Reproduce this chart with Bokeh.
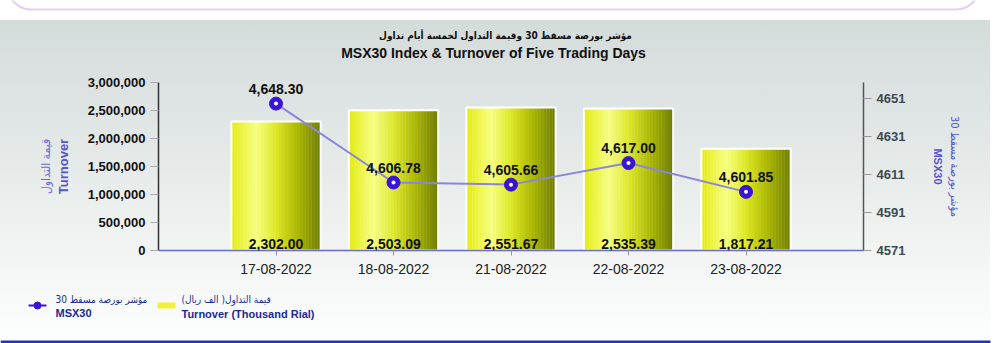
from bokeh.plotting import figure
from bokeh.layouts import column
from bokeh.models import (ColumnDataSource, FactorRange, Range1d, LinearAxis, FixedTicker,
                          NumeralTickFormatter, LabelSet, Label, BoxAnnotation)
from bokeh.transform import dodge
from bokeh.core.properties import value
from bokeh.embed import file_html
from bokeh.resources import INLINE

# ---------------- data ----------------
dates = ["17-08-2022", "18-08-2022", "21-08-2022", "22-08-2022", "23-08-2022"]
turnover_thousand = [2302.00, 2503.09, 2551.67, 2535.39, 1817.21]
msx30 = [4648.30, 4606.78, 4605.66, 4617.00, 4601.85]
left_ticks = [0, 500000, 1000000, 1500000, 2000000, 2500000, 3000000]
right_ticks = [4571, 4591, 4611, 4631, 4651]

title_ar = "مؤشر بورصة مسقط 30 وقيمة التداول لخمسة أيام تداول"
title_en = "MSX30 Index & Turnover of Five Trading Days"
left_label_ar = "قيمة التداول"
left_label_en = "Turnover"
right_label_ar = "مؤشر بورصة مسقط 30"
right_label_en = "MSX30"
legend_line_ar = "مؤشر بورصة مسقط 30"
legend_line_en = "MSX30"
legend_bar_ar = "قيمة التداول( الف ريال)"
legend_bar_en = "Turnover (Thousand Rial)"

FONT = "Liberation Sans"
AR_FONT = "DejaVu Sans Condensed, DejaVu Sans"
LINE_C = "#8a86dc"
DOT_C = "#3a14d6"
LEG_C = "#1a2a9a"
RIGHT_WHITE = "linear-gradient(to right, rgba(255,255,255,0) 990px, #ffffff 990px)"

src = ColumnDataSource(dict(
    date=dates,
    bar_top=[t * 1000 for t in turnover_thousand],
    bar_label=[f"{t:,.2f}" for t in turnover_thousand],
    msx=msx30,
    msx_label=[f"{v:,.2f}" for v in msx30],
))


def plain_fig(h):
    f = figure(width=1000, height=h, x_range=Range1d(0, 1000), y_range=Range1d(h, 0),
               output_backend="svg", toolbar_location=None, title_location=None,
               x_axis_location=None, y_axis_location=None, min_border=0, frame_align=False)
    f.outline_line_color = None
    f.xgrid.visible = False
    f.ygrid.visible = False
    f.background_fill_alpha = 0
    f.border_fill_alpha = 0
    return f


# ================= top strip: rounded purple frame + titles =================
TOP_H = 64
top = plain_fig(TOP_H)
top.styles = {"background": RIGHT_WHITE + ", linear-gradient(to bottom, #ffffff 0px, #ffffff 20px, "
                                          "#d4dcda 20px, #d9e0df 64px)"}
top.add_layout(BoxAnnotation(left=8, right=978, top=-40, bottom=9, fill_color="white",
                             fill_alpha=1, line_color="#9a62d6", line_width=2, border_radius=22))
top.add_layout(Label(x=505, y=35, text=title_ar, text_font=AR_FONT, text_font_size="10px",
                     text_font_style="bold", text_color="#111111",
                     text_align="center", text_baseline="middle"))
top.add_layout(Label(x=493, y=52, text=title_en, text_font=FONT, text_font_size="14px",
                     text_font_style="bold", text_color="#111111",
                     text_align="center", text_baseline="middle"))

# ================= main chart =================
MAIN_H = 226
p = figure(width=1000, height=MAIN_H,
           x_range=FactorRange(factors=dates, range_padding=0.2),
           y_range=Range1d(0, 3000000),
           output_backend="svg", toolbar_location=None, title_location=None,
           min_border_left=158, min_border_right=137,
           min_border_top=18, min_border_bottom=40, frame_align=False)
p.outline_line_color = None
p.background_fill_alpha = 0
p.border_fill_alpha = 0
p.styles = {"background": RIGHT_WHITE + ", linear-gradient(to bottom, #d9e0df 0px, #e6ebea 106px, "
                                        "#f1f4f3 186px, #f7f9f8 226px)"}
p.xgrid.grid_line_color = None
p.ygrid.grid_line_color = None

# bars with a horizontal gradient (vertical strips)
stops = [(0.0, (228, 236, 16)), (0.28, (246, 255, 130)), (0.5, (222, 232, 40)),
         (0.75, (170, 182, 0)), (1.0, (110, 124, 0))]


def grad(t):
    for (t0, c0), (t1, c1) in zip(stops[:-1], stops[1:]):
        if t <= t1:
            f = (t - t0) / (t1 - t0) if t1 > t0 else 0
            return "#%02x%02x%02x" % tuple(int(round(c0[k] + (c1[k] - c0[k]) * f)) for k in range(3))
    return "#%02x%02x%02x" % stops[-1][1]


BW = 0.76
NS = 30
sw = BW / NS
for i in range(NS):
    off = -BW / 2 + sw * (i + 0.5)
    p.vbar(x=dodge("date", off, range=p.x_range), top="bar_top", bottom=0,
           width=sw * 1.08, source=src, fill_color=grad((i + 0.5) / NS), line_color=None)
p.vbar(x="date", top="bar_top", bottom=0, width=BW, source=src,
       fill_alpha=0, line_color="white", line_width=2)

# MSX30 line on the right axis
p.extra_y_ranges = {"msx": Range1d(4571, 4659.4), "blank": Range1d(0, 1)}
p.line(x="date", y="msx", source=src, y_range_name="msx", line_color=LINE_C, line_width=2)
p.scatter(x="date", y="msx", source=src, y_range_name="msx", size=13,
          fill_color=DOT_C, line_color=DOT_C)
p.scatter(x="date", y="msx", source=src, y_range_name="msx", size=4,
          fill_color="white", line_color=None)

p.add_layout(LabelSet(x="date", y="msx", text="msx_label", source=src, y_range_name="msx",
                      y_offset=10, text_align="center", text_baseline="bottom",
                      text_font=value(FONT), text_font_size="14px", text_font_style="bold",
                      text_color="#111111"))
p.add_layout(LabelSet(x="date", y=0, text="bar_label", source=src,
                      y_offset=2, text_align="center", text_baseline="bottom",
                      text_font=value(FONT), text_font_size="14px", text_font_style="bold",
                      text_color="#111111"))

# x axis
xa = p.xaxis[0]
xa.axis_line_color = "#6a6acf"
xa.axis_line_width = 1.5
xa.major_tick_out = 5
xa.major_tick_in = 0
xa.major_tick_line_color = "#999999"
xa.major_label_text_font = FONT
xa.major_label_text_font_size = "14px"
xa.major_label_text_color = "#222222"
xa.major_label_standoff = 8

# left axis
ya = p.yaxis[0]
ya.ticker = FixedTicker(ticks=left_ticks)
ya.formatter = NumeralTickFormatter(format="0,0")
ya.axis_line_color = "#333333"
ya.axis_line_width = 1.5
ya.major_tick_out = 8
ya.major_tick_in = 0
ya.major_tick_line_color = "#aaaaaa"
ya.minor_tick_line_color = None
ya.major_label_text_font = FONT
ya.major_label_text_font_size = "13px"
ya.major_label_text_font_style = "bold"
ya.major_label_text_color = "#111111"
ya.major_label_standoff = 5
ya.axis_label = left_label_en
ya.axis_label_text_font = FONT
ya.axis_label_text_font_size = "13px"
ya.axis_label_text_font_style = "bold"
ya.axis_label_text_color = "#5555cc"
ya.axis_label_standoff = 14


def label_axis(text, size, color, font, bold=False):
    ax = LinearAxis(y_range_name="blank", ticker=FixedTicker(ticks=[]), axis_label=text)
    ax.axis_line_color = None
    ax.major_tick_line_color = None
    ax.minor_tick_line_color = None
    ax.major_tick_out = 0
    ax.minor_tick_out = 0
    ax.major_label_standoff = 0
    ax.axis_label_standoff = 0
    ax.axis_label_text_font = font
    ax.axis_label_text_font_size = size
    ax.axis_label_text_font_style = "bold" if bold else "normal"
    ax.axis_label_text_color = color
    return ax


p.add_layout(label_axis(left_label_ar, "12px", "#6a6ad4", AR_FONT), "left")

# right axis
ra = LinearAxis(y_range_name="msx", ticker=FixedTicker(ticks=right_ticks))
ra.axis_line_color = "#555555"
ra.axis_line_width = 1.5
ra.major_tick_out = 8
ra.major_tick_in = 0
ra.major_tick_line_color = "#999999"
ra.minor_tick_line_color = None
ra.major_label_text_font = FONT
ra.major_label_text_font_size = "13px"
ra.major_label_text_font_style = "bold"
ra.major_label_text_color = "#3c4a54"
ra.major_label_standoff = 5
ra.axis_label = right_label_en
ra.axis_label_text_font = FONT
ra.axis_label_text_font_size = "11px"
ra.axis_label_text_font_style = "bold"
ra.axis_label_text_color = "#5555cc"
ra.axis_label_standoff = 24
p.add_layout(ra, "right")
p.add_layout(label_axis(right_label_ar, "11px", "#5555cc", AR_FONT), "right")

# ================= legend strip =================
LEG_H = 53
leg = plain_fig(LEG_H)
leg.styles = {"background": RIGHT_WHITE + ", linear-gradient(to bottom, #f7f9f8 0px, #fcfdfd 45px)"}

leg.line(x=[28, 46], y=[15, 15], line_color=DOT_C, line_width=2)
leg.scatter(x=[37], y=[15], size=7, fill_color=DOT_C, line_color=DOT_C)
leg.add_layout(BoxAnnotation(left=157, right=175, top=12, bottom=18, fill_color="#eef23a",
                             fill_alpha=1, line_alpha=0))


def ltext(x, y, text, size, bold=False, font=FONT):
    leg.add_layout(Label(x=x, y=y, text=text, text_font=font, text_font_size=size,
                         text_font_style="bold" if bold else "normal", text_color=LEG_C,
                         text_align="left", text_baseline="middle"))


ltext(55, 9, legend_line_ar, "10px", font=AR_FONT)
ltext(55, 22, legend_line_en, "11px", bold=True)
ltext(181, 9, legend_bar_ar, "10px", font=AR_FONT)
ltext(181, 23, legend_bar_en, "11px", bold=True)
leg.add_layout(BoxAnnotation(left=0, right=990, top=50, bottom=53, fill_color="#2233b8",
                             fill_alpha=1, line_alpha=0))

layout = column(top, p, leg, spacing=0)
open("out.html", "w").write(file_html(layout, INLINE))
